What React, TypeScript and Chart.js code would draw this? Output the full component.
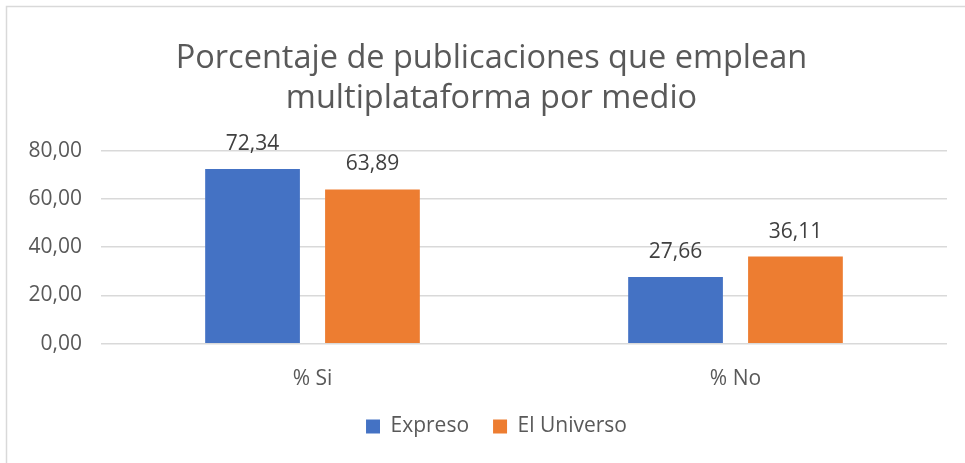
import { useEffect, useRef } from "react";
import { Chart, registerables } from "chart.js";

Chart.register(...registerables);

const categories = ["% Si", "% No"];
const seriesNames = ["Expreso", "El Universo"];
const expreso = [72.34, 27.66];
const elUniverso = [63.89, 36.11];
const yMin = 0;
const yMax = 80;
const yStep = 20;
const titleLines = ["Porcentaje de publicaciones que emplean", "multiplataforma por medio"];
const colors = ["#4472C4", "#ED7D31"];

const FONT = "'Open Sans', 'Liberation Sans', sans-serif";

const fmt = (v: number) => v.toFixed(2).replace(".", ",");

const borderPlugin = {
  id: "frameBorder",
  beforeDraw(chart: any) {
    const ctx = chart.ctx;
    ctx.save();
    ctx.fillStyle = "#ffffff";
    ctx.fillRect(0, 0, chart.width, chart.height);
    ctx.strokeStyle = "#d9d9d9";
    ctx.lineWidth = 1.5;
    ctx.strokeRect(6.5, 6.5, chart.width + 20, chart.height + 20);
    ctx.restore();
  },
};

const boxShiftPlugin = {
  id: "boxShift",
  afterLayout(chart: any) {
    const lg = chart.legend;
    if (lg) {
      lg.left += 23;
      lg.right += 23;
    }
    const tt = chart.titleBlock;
    if (tt) {
      tt.left += 18;
      tt.right += 18;
    }
  },
};

const dataLabelPlugin = {
  id: "dataLabels",
  afterDatasetsDraw(chart: any) {
    const ctx = chart.ctx;
    ctx.save();
    ctx.font = `21px ${FONT}`;
    ctx.fillStyle = "#404040";
    ctx.textAlign = "center";
    ctx.textBaseline = "middle";
    chart.data.datasets.forEach((ds: any, i: number) => {
      const meta = chart.getDatasetMeta(i);
      meta.data.forEach((el: any, j: number) => {
        ctx.fillText(fmt(ds.data[j]), el.x, el.y - 25);
      });
    });
    ctx.restore();
  },
};

export default function App() {
  const ref = useRef<HTMLCanvasElement | null>(null);

  useEffect(() => {
    if (!ref.current) return;
    const chart = new Chart(ref.current, {
      type: "bar",
      data: {
        labels: categories,
        datasets: [
          { label: seriesNames[0], data: expreso, backgroundColor: colors[0] },
          { label: seriesNames[1], data: elUniverso, backgroundColor: colors[1] },
        ],
      },
      options: {
        responsive: false,
        animation: false,
        layout: { padding: { left: 0, right: 18, top: 0, bottom: 16 } },
        datasets: {
          bar: { categoryPercentage: 0.567, barPercentage: 0.79 },
        },
        scales: {
          x: {
            grid: { display: false, drawTicks: false },
            border: { display: false },
            ticks: { color: "#595959", font: { family: FONT, size: 21 }, padding: 23 },
            afterFit: (s: any) => {
              s.height = s.height - 23;
            },
          },
          y: {
            min: yMin,
            max: yMax,
            ticks: {
              stepSize: yStep,
              color: "#595959",
              font: { family: FONT, size: 21 },
              padding: 19,
              callback: (v: any) => fmt(Number(v)),
            },
            grid: { color: "#d9d9d9", lineWidth: 1.5, drawTicks: false },
            border: { display: false },
            afterFit: (s: any) => {
              s.width = 101;
            },
          },
        },
        plugins: {
          title: {
            display: true,
            text: titleLines,
            color: "#595959",
            font: { family: FONT, size: 32.5, weight: "normal", lineHeight: 1.255 },
            padding: { top: 38, bottom: 31 },
          },
          legend: {
            position: "bottom",
            labels: {
              color: "#595959",
              font: { family: FONT, size: 21 },
              boxWidth: 14,
              boxHeight: 14,
              padding: 24,
            },
          },
          tooltip: { enabled: false },
        },
      },
      plugins: [borderPlugin, boxShiftPlugin, dataLabelPlugin],
    });
    return () => chart.destroy();
  }, []);

  return (
    <div style={{ position: "fixed", left: 0, top: 0, width: 965, height: 463 }}>
      <canvas ref={ref} width={965} height={463} style={{ width: 965, height: 463, display: "block" }} />
    </div>
  );
}
